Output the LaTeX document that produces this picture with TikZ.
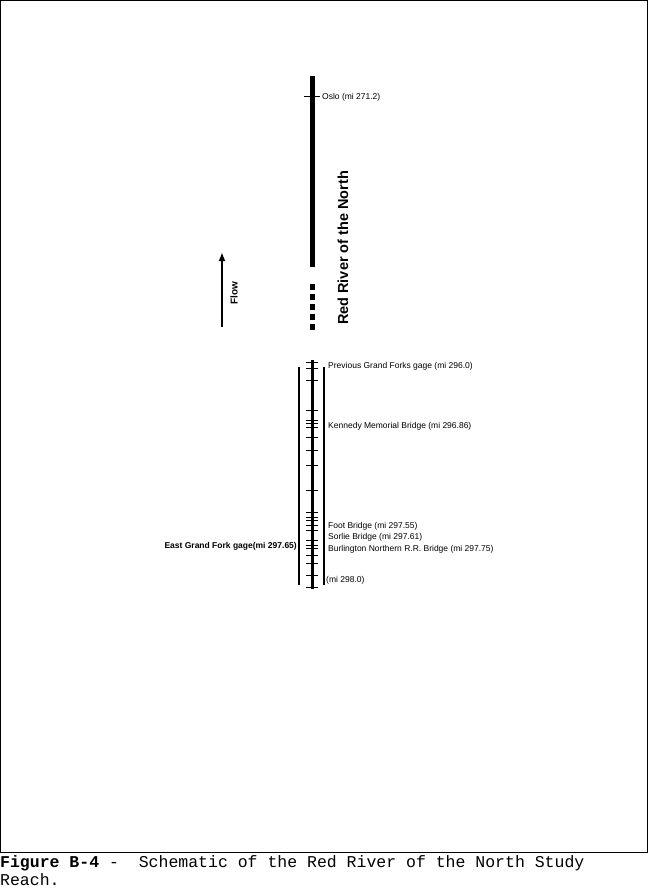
\documentclass[tikz,border=0pt]{standalone}
\usepackage{fontspec}
\usetikzlibrary{arrows.meta}
\setmainfont{Liberation Sans}
\newfontfamily\capfont{Liberation Mono}
\begin{document}
\begin{tikzpicture}[x=1pt,y=-1pt,
  lbl/.style={anchor=west,inner sep=0pt,font=\fontsize{8.5}{9}\selectfont},
  tk/.style={line width=0.8pt}]
\useasboundingbox (0,0) rectangle (650,892);
\draw[line width=1pt] (0.5,0.5) rectangle (647,852);
% upper river
\draw[line width=5pt] (312,76) -- (312,267);
\draw[tk] (304,96) -- (320,96);
\node[lbl] (oslo) at (322,97) {Oslo (mi 271.2)};
\draw[line width=5pt,dash pattern=on 6pt off 4pt] (312,284) -- (312,331);
\node[rotate=90,font=\bfseries\fontsize{14.5}{14}\selectfont] (rr) at (343,248) {Red River of the North};
% flow
\coordinate (f1) at (222,327); \coordinate (f2) at (222,252);
\draw[line width=2pt,-{Latex[length=9pt,width=7pt]}] (f1) -- (f2);
\node[rotate=90,font=\bfseries\fontsize{10}{10}\selectfont] (flow) at (234,293) {Flow};
% lower reach
\draw[line width=3pt] (312,360) -- (312,589);
\draw[line width=2pt] (299,367) -- (299,585);
\draw[line width=2.5pt] (324,367) -- (324,585);
\foreach \y in {362,368,380,410,420,423,427,437,450,465,490,512,517,520,525,530,540,545,548,555,563,575,587}
  \draw[tk] (306,\y) -- (318,\y);
\node[lbl] (pg) at (328,366) {Previous Grand Forks gage (mi 296.0)};
\node[lbl] (kb) at (328,426) {Kennedy Memorial Bridge (mi 296.86)};
\node[lbl] (fb) at (328,526) {Foot Bridge (mi 297.55)};
\node[lbl] (sb) at (328,537) {Sorlie Bridge (mi 297.61)};
\node[lbl] (bn) at (328,549) {Burlington Northern R.R. Bridge (mi 297.75)};
\node[lbl] (end) at (326,580) {(mi 298.0)};
\node[anchor=east,inner sep=0pt,font=\bfseries\fontsize{8.5}{9}\selectfont] (eg) at (297,546) {East Grand Fork gage(mi 297.65)};
% caption
\node[anchor=west,inner sep=0pt,font=\capfont\fontsize{16.5}{17}\selectfont] (c1) at (0,863) {\textbf{Figure B-4} -\ \ Schematic of the Red River of the North Study};
\node[anchor=west,inner sep=0pt,font=\capfont\fontsize{16.5}{17}\selectfont] (c2) at (0,880) {Reach.};
\end{tikzpicture}
\end{document}
